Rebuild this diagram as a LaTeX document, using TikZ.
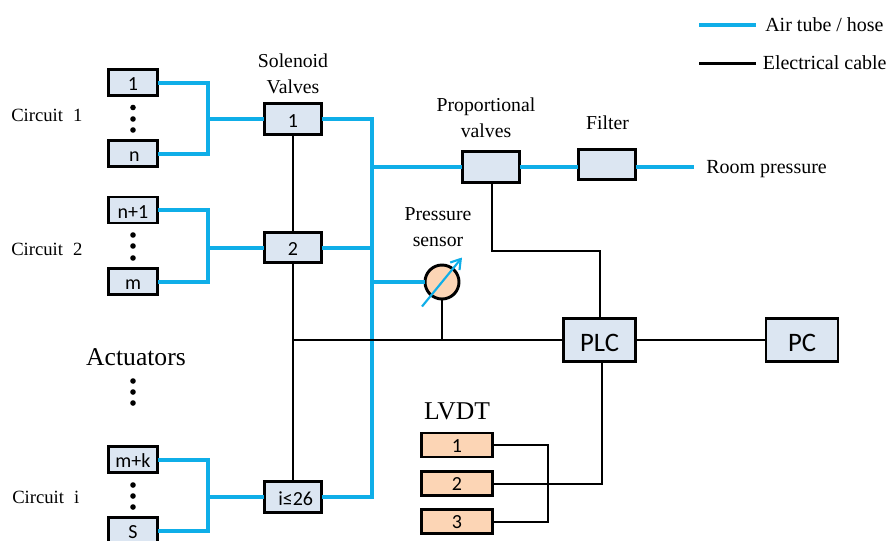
\documentclass[tikz,border=0pt]{standalone}
\usepackage{fontspec}
\setmainfont{Liberation Serif}
\newfontfamily\boxfont{Carlito}
\usetikzlibrary{arrows.meta}
\definecolor{airblue}{HTML}{0FAEE8}
\definecolor{boxblue}{HTML}{DCE6F2}
\definecolor{boxorange}{HTML}{FCD5B5}
\tikzset{
  x=0.75pt,y=-0.75pt,
  air/.style={draw=airblue,line width=3pt},
  cable/.style={draw=black,line width=1.5pt},
  legendcable/.style={draw=black,line width=1.8pt},
  boxbase/.style={draw=black,line width=2.2pt,inner sep=0pt,outer sep=0pt,text height=12.2pt,text depth=0pt,font=\boxfont\fontsize{15}{17}\selectfont},
  actbox/.style={boxbase,fill=boxblue,minimum width=37pt,minimum height=19.5pt},
  valvebox/.style={boxbase,fill=boxblue,minimum width=43pt,minimum height=23pt},
  ctrlbox/.style={boxbase,fill=boxblue,minimum width=54pt,minimum height=32.5pt,text height=17.6pt,font=\boxfont\fontsize{20}{22}\selectfont},
  lvdtbox/.style={boxbase,fill=boxorange,minimum width=53.5pt,minimum height=18pt,text height=10.6pt},
  lab/.style={font=\fontsize{14.8}{19.8}\selectfont,align=center,inner sep=0pt},
  circlab/.style={font=\fontsize{14}{18}\selectfont,anchor=west,inner sep=0pt},
  bigLab/.style={font=\fontsize{19.2}{22}\selectfont,align=center,inner sep=0pt},
  vdot/.style={circle,fill=black,inner sep=0pt,minimum size=4.2pt},
  sensor/.style={circle,draw=black,line width=2.2pt,fill=boxorange,minimum size=25.5pt,inner sep=0pt,outer sep=0pt},
}
\begin{document}
\begin{tikzpicture}
\useasboundingbox (0,0) rectangle (887,540);
\clip (0,0) rectangle (887,540);
% actuator boxes
\node[actbox] (a1) at (133,82.5) {1};
\node[actbox] (an) at (133,153.5) {\hspace{2pt}n};
\node[actbox] (an1) at (133,210) {n+1};
\node[actbox] (am) at (133,281.5) {m};
\node[actbox] (amk) at (133,459.5) {m+k};
\node[actbox] (as) at (133,530.5) {S};
% solenoid valves
\node[valvebox] (v1) at (293,119) {1\hspace{2pt}};
\node[valvebox] (v2) at (293,247.5) {2\hspace{2pt}};
\node[valvebox] (vi) at (293,497) {\hspace{4pt}i≤26};
% right side
\node[valvebox] (pv) at (491,167) {};
\node[valvebox] (fl) at (607,164.5) {};
\node[ctrlbox] (plc) at (599.5,340) {PLC};
\node[ctrlbox] (pc) at (802,340) {PC};
\node[lvdtbox] (l1) at (457,445) {1};
\node[lvdtbox] (l2) at (457,483.5) {2};
\node[lvdtbox] (l3) at (457,521.5) {3};
% coordinates
\coordinate (j1) at (208,119);
\coordinate (j2) at (208,247.5);
\coordinate (ji) at (208,497);
\coordinate (btop) at (372,119);
\coordinate (bbot) at (372,497);
\coordinate (bprop) at (372,167);
\coordinate (bv2) at (372,247.5);
\coordinate (bsens) at (372,282);
\coordinate (room) at (694,167);
\coordinate (ctl) at (293,340);
\coordinate (sensb) at (442,340);
\coordinate (pvturn) at (492,251);
\coordinate (plctop) at (600,251);
\coordinate (lj) at (548,445);
\coordinate (plcb) at (602,483.5);
% tubes
\draw[air] (a1.east) -| (j1) |- (an.east);
\draw[air] (j1) -- (v1.west);
\draw[air] (an1.east) -| (j2) |- (am.east);
\draw[air] (j2) -- (v2.west);
\draw[air] (amk.east) -| (ji) |- (as.east);
\draw[air] (ji) -- (vi.west);
\draw[air,line join=miter] (v1.east) -- (btop) -- (bbot) -- (vi.east);
\draw[air] (v2.east) -- (bv2);
\draw[air] (bprop) -- (pv.west);
\draw[air] (pv.east) -- (fl.west |- pv.east);
\draw[air] (fl.east |- room) -- (room);
% sensor
\node[sensor] (ps) at (442,282) {};
\draw[air] (bsens) -- (ps.west);
% cables
\draw[cable] (v1.south) -- (v2.north);
\draw[cable] (v2.south) -- (vi.north);
\draw[cable] (ctl) -- (plc.west);
\draw[cable] (plc.east) -- (pc.west);
\draw[cable] (ps.south) -- (sensb);
\draw[cable] (pv.south -| pvturn) -- (pvturn) -- (plctop) -- (plctop |- plc.north);
\draw[cable] (plcb |- plc.south) -- (plcb) -- (l2.east);
\draw[cable] (l1.east) -- (lj) -- (lj |- l3.east) -- (l3.east);
% sensor arrow
\coordinate (arrs) at (422,306.5);
\coordinate (arre) at (462,257.5);
\draw[draw=airblue,line width=1.6pt,-{Straight Barb[length=7pt,width=9pt]}] (arrs) -- (arre);
% dots
\foreach \n/\yy in {d1/107.5,d2/119,d3/130,d4/235,d5/246,d6/258,d7/381,d8/392,d9/403,d10/485,d11/496,d12/507}
  \node[vdot] (\n) at (133,\yy) {};
% labels
\node[circlab] (t1) at (11,115) {Circuit\hspace{7.5pt}1};
\node[circlab] (t2) at (11,249) {Circuit\hspace{7.5pt}2};
\node[circlab] (t3) at (12,497) {Circuit\hspace{7.5pt}i};
\node[bigLab] (t4) at (136,357) {Actuators};
\node[lab] (t5) at (293,74) {Solenoid\\Valves};
\node[lab] (t6) at (486,118) {Proportional\\valves};
\node[lab] (t7) at (607.5,123) {Filter};
\node[lab] (t8) at (438,227) {Pressure\\sensor};
\node[lab,anchor=west,font=\fontsize{15}{18}\selectfont] (t9) at (706,169) {Room pressure};
\node[bigLab] (t10) at (457,411) {LVDT};
\node[lab,anchor=west,font=\fontsize{15}{18}\selectfont] (t11) at (765,25) {Air tube / hose};
\node[lab,anchor=west,font=\fontsize{15}{18}\selectfont] (t12) at (762.5,62.5) {Electrical cable};
\coordinate (la) at (699,25);
\coordinate (lb) at (756,25);
\coordinate (lc) at (699,63.5);
\coordinate (ld) at (756,63.5);
\draw[air] (la) -- (lb);
\draw[legendcable] (lc) -- (ld);
\end{tikzpicture}
\end{document}
